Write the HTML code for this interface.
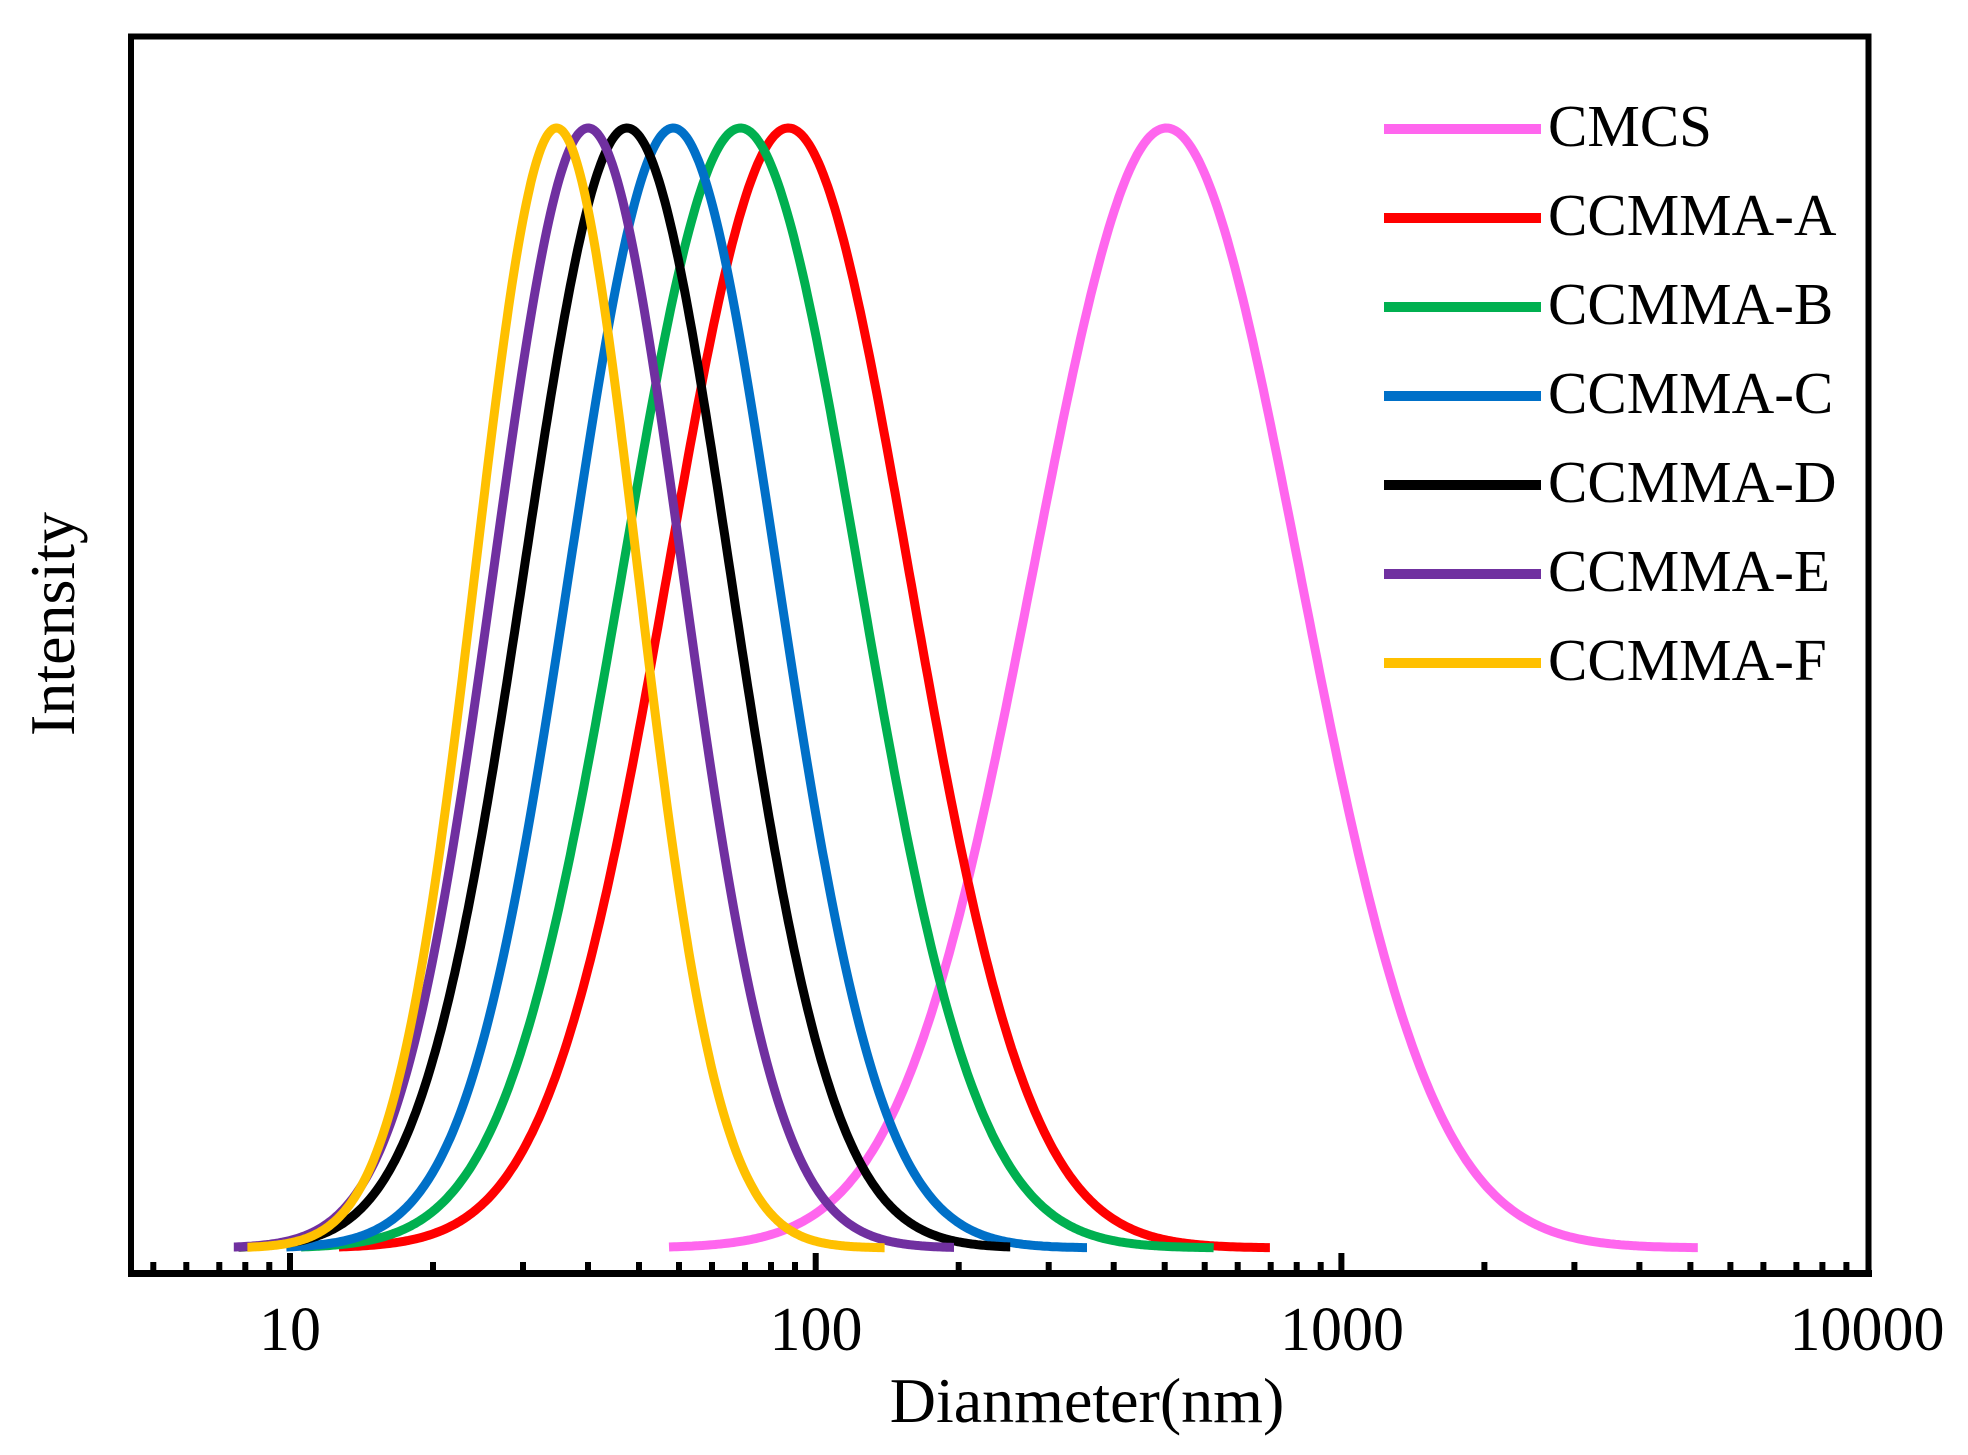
<!DOCTYPE html>
<html><head><meta charset="utf-8"><style>
html,body{margin:0;padding:0;background:#fff;}
svg{display:block;}
text{font-family:"Liberation Serif","Times New Roman",serif;fill:#000;}
</style></head><body>
<svg id="s" width="1968" height="1455" viewBox="0 0 1968 1455" xmlns="http://www.w3.org/2000/svg">
<rect x="131" y="36.5" width="1737.5" height="1237" fill="none" stroke="#000" stroke-width="6"/>
<line x1="128" y1="1273.5" x2="1872" y2="1273.5" stroke="#000" stroke-width="7"/>
<g id="ticks" stroke="#000" stroke-width="6"></g>
<g id="curves" fill="none" stroke-width="9" stroke-linejoin="round"></g>
<g id="legend"></g>
<g font-size="62" text-anchor="middle">
<text x="290" y="1350">10</text>
<text x="816" y="1350">100</text>
<text x="1342" y="1350">1000</text>
<text x="1867" y="1350">10000</text>
</g>
<text x="1087" y="1422" font-size="64" text-anchor="middle">Dianmeter(nm)</text>
<text transform="translate(74,624) rotate(-90)" font-size="64" text-anchor="middle">Intensity</text>
</svg>
<script>
var NS="http://www.w3.org/2000/svg";
function X(l){return 290+525.7*(l-1);}
var tk=document.getElementById('ticks');
function T(x,len){var e=document.createElementNS(NS,'line');e.setAttribute('x1',x);e.setAttribute('x2',x);e.setAttribute('y1',1271);e.setAttribute('y2',1271-len);tk.appendChild(e);}
var offs=[143,233,298,349,389,422,455,481,505];
for(var dec=0;dec<4;dec++){var D=290+525.7*(dec-1);
 if(dec>0)T(D,18);
 offs.forEach(function(o){var x=D+o;if(x>136&&x<1864)T(x,9);});}
var S=[
["CMCS","#ff66ee",2.667,0.2528,1.721,3.678],
["CCMMA-A","#ff0000",1.948,0.2286,1.093,2.864],
["CCMMA-B","#00b050",1.857,0.2238,1.021,2.757],
["CCMMA-C","#0070c8",1.729,0.197,0.993,2.516],
["CCMMA-D","#000000",1.641,0.1955,0.902,2.370],
["CCMMA-E","#7030a0",1.567,0.1793,0.893,2.263],
["CCMMA-F","#ffc000",1.507,0.1543,0.919,2.131]];
var cg=document.getElementById('curves'),lg=document.getElementById('legend');
S.forEach(function(s,i){
 var d="";for(var k=0;k<=400;k++){var l=s[4]+(s[5]-s[4])*k/400;var g=Math.exp(-0.5*Math.pow((l-s[2])/s[3],2));
 var y=1248-(1248-128)*g;d+=(k?"L":"M")+X(l).toFixed(1)+","+y.toFixed(1);}
 var p=document.createElementNS(NS,'path');p.setAttribute('d',d);p.setAttribute('stroke',s[1]);cg.appendChild(p);
 var y0=129+89*i;var ln=document.createElementNS(NS,'line');ln.setAttribute('x1',1384);ln.setAttribute('x2',1541);ln.setAttribute('y1',y0);ln.setAttribute('y2',y0);ln.setAttribute('stroke',s[1]);ln.setAttribute('stroke-width',10);lg.appendChild(ln);
 var t=document.createElementNS(NS,'text');t.setAttribute('x',1548);t.setAttribute('y',y0+17);t.setAttribute('font-size',59);t.textContent=s[0];lg.appendChild(t);
});
</script>
</body></html>
